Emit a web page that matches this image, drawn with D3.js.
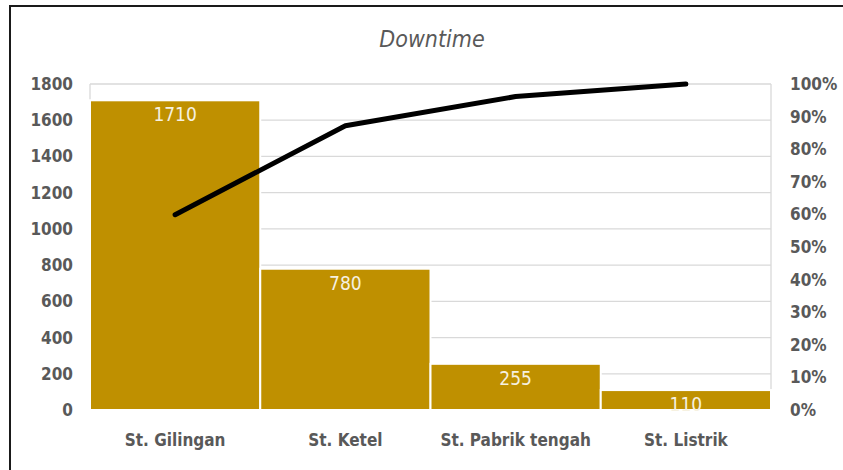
<!DOCTYPE html>
<html>
<head>
<meta charset="utf-8">
<script src="https://cdn.jsdelivr.net/npm/d3@7"></script>
<style>
  html, body { margin: 0; padding: 0; background: #fff; }
  svg { display: block; }
  text { font-family: "Liberation Sans Narrow", "DejaVu Sans Condensed", "Liberation Sans", sans-serif; }
</style>
</head>
<body>
<svg id="chart" width="843" height="470"></svg>
<script>
// Downtime per station, sorted descending (Pareto)
const categories = ["St. Gilingan", "St. Ketel", "St. Pabrik tengah", "St. Listrik"];
const downtime = [1710, 780, 255, 110];
const leftTicks = [0, 200, 400, 600, 800, 1000, 1200, 1400, 1600, 1800];
const rightTicks = [0, 0.1, 0.2, 0.3, 0.4, 0.5, 0.6, 0.7, 0.8, 0.9, 1.0];

// cumulative share for the Pareto line
const total = d3.sum(downtime);
const cumulative = d3.cumsum(downtime).map(v => v / total);

const svg = d3.select("#chart");
const W = 843, H = 470;
const plot = { left: 90, right: 771, top: 84, bottom: 410 };

// outer frame
svg.append("rect")
  .attr("x", 10).attr("y", 6).attr("width", W).attr("height", H)
  .attr("fill", "#fff").attr("stroke", "#1a1a1a").attr("stroke-width", 2);

const x = d3.scaleBand().domain(categories).range([plot.left, plot.right]).paddingInner(0).paddingOuter(0);
const y = d3.scaleLinear().domain([0, 1800]).range([plot.bottom, plot.top]);
const yPct = d3.scaleLinear().domain([0, 1]).range([plot.bottom, plot.top]);

// title
svg.append("text")
  .attr("x", 432).attr("y", 47)
  .attr("text-anchor", "middle")
  .attr("font-size", 23).attr("font-style", "italic")
  .attr("fill", "#595959")
  .text("Downtime");

// gridlines
svg.append("g")
  .selectAll("line").data(leftTicks).join("line")
  .attr("x1", plot.left).attr("x2", plot.right)
  .attr("y1", d => y(d)).attr("y2", d => y(d))
  .attr("stroke", "#d9d9d9").attr("stroke-width", 1.3);

// plot-area side borders
svg.append("g").selectAll("line").data([plot.left, plot.right]).join("line")
  .attr("x1", d => d).attr("x2", d => d)
  .attr("y1", plot.top).attr("y2", plot.bottom)
  .attr("stroke", "#d9d9d9").attr("stroke-width", 1.3);

// left axis
const leftAxis = svg.append("g")
  .attr("transform", `translate(${plot.left},0)`)
  .call(d3.axisLeft(y).tickValues(leftTicks).tickSize(0).tickPadding(17).tickFormat(d3.format("d")));
leftAxis.select(".domain").remove();
leftAxis.selectAll("text")
  .attr("font-size", 17).attr("font-weight", "bold").attr("fill", "#595959")
  .attr("font-family", null);

// right axis
const rightAxis = svg.append("g")
  .attr("transform", `translate(${plot.right},0)`)
  .call(d3.axisRight(yPct).tickValues(rightTicks).tickSize(0).tickPadding(19).tickFormat(d3.format(".0%")));
rightAxis.select(".domain").remove();
rightAxis.selectAll("text")
  .attr("font-size", 17).attr("font-weight", "bold").attr("fill", "#595959")
  .attr("font-family", null);

// bottom category labels
const bottomAxis = svg.append("g")
  .attr("transform", `translate(0,${plot.bottom})`)
  .call(d3.axisBottom(x).tickSize(0).tickPadding(24));
bottomAxis.select(".domain").remove();
bottomAxis.selectAll("text")
  .attr("font-size", 17).attr("font-weight", "bold").attr("fill", "#595959")
  .attr("font-family", null);

// bars
svg.append("g")
  .selectAll("rect").data(downtime).join("rect")
  .attr("x", (d, i) => x(categories[i]))
  .attr("y", d => y(d))
  .attr("width", x.bandwidth())
  .attr("height", d => y(0) - y(d))
  .attr("fill", "#bf9000")
  .attr("stroke", "#ffffff").attr("stroke-width", 2);

// bar value labels
svg.append("g")
  .selectAll("text").data(downtime).join("text")
  .attr("x", (d, i) => x(categories[i]) + x.bandwidth() / 2)
  .attr("y", d => y(d) + 21)
  .attr("text-anchor", "middle")
  .attr("font-size", 19)
  .attr("fill", "#f6f1e0")
  .text(d => d);

// cumulative percentage line
const line = d3.line()
  .x((d, i) => x(categories[i]) + x.bandwidth() / 2)
  .y(d => yPct(d));
svg.append("path")
  .datum(cumulative)
  .attr("d", line)
  .attr("fill", "none")
  .attr("stroke", "#000")
  .attr("stroke-width", 5)
  .attr("stroke-linecap", "round")
  .attr("stroke-linejoin", "round");
</script>
</body>
</html>
